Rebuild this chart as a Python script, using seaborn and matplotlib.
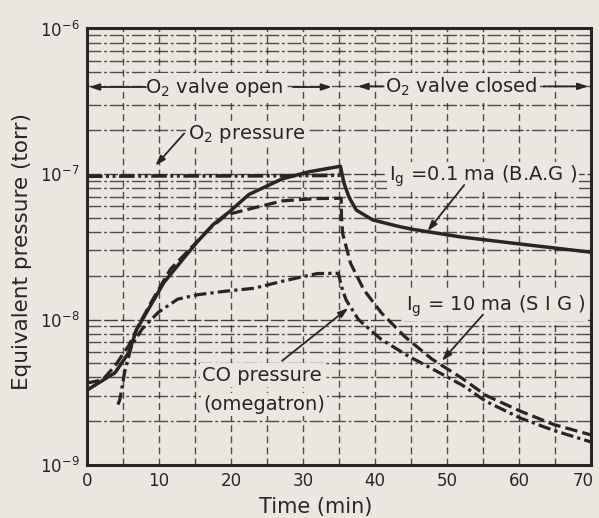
import matplotlib
matplotlib.use("Agg")
import matplotlib.pyplot as plt
import matplotlib.transforms as mtransforms
import seaborn as sns
import pandas as pd
from matplotlib.ticker import MultipleLocator, LogLocator, NullFormatter

# ---- data ----
time_bag = [0, 3.9, 5.8, 6.9, 8.5, 10.7, 13.0, 15.3, 17.5, 19.8, 22.5, 27.1, 30.8,
            35.2, 35.7, 36.4, 37.4, 39.7, 43.4, 45.2, 51.8, 60.2, 70]
p_bag = [3.27e-9, 4.31e-9, 5.92e-9, 8.53e-9, 1.17e-8, 1.80e-8, 2.48e-8, 3.41e-8,
         4.48e-8, 5.51e-8, 7.24e-8, 9.25e-8, 1.035e-7, 1.13e-7, 8.63e-8, 6.92e-8,
         5.65e-8, 4.83e-8, 4.35e-8, 4.17e-8, 3.70e-8, 3.30e-8, 2.90e-8]

time_sig = [0, 2.15, 3.9, 5.8, 7.15, 8.9, 11.6, 14.3, 17.0, 19.4, 23.0, 27.1, 31.8,
            35.3, 35.35, 35.5, 36.6, 38.45, 40.9, 44.1, 47.9, 52.15, 55.4, 60.15,
            64.8, 70]
p_sig = [3.66e-9, 3.84e-9, 4.81e-9, 6.61e-9, 9.08e-9, 1.31e-8, 2.22e-8, 3.05e-8,
         4.20e-8, 5.25e-8, 5.82e-8, 6.53e-8, 6.78e-8, 6.81e-8, 5.05e-8, 3.92e-8,
         2.44e-8, 1.60e-8, 1.11e-8, 7.66e-9, 5.35e-9, 3.93e-9, 3.01e-9, 2.35e-9,
         1.90e-9, 1.61e-9]

time_co = [4.3, 4.56, 5.3, 6.2, 7.6, 9.9, 12.6, 15.4, 19.0, 23.2, 27.3, 32.0, 34.9,
           35.5, 36.0, 37.7, 40.9, 44.7, 48.0, 52.2, 55.4, 60.2, 64.8, 70]
p_co = [2.6e-9, 2.81e-9, 4.52e-9, 6.62e-9, 8.53e-9, 1.12e-8, 1.38e-8, 1.48e-8,
        1.56e-8, 1.64e-8, 1.84e-8, 2.07e-8, 2.08e-8, 1.59e-8, 1.36e-8, 1.0e-8,
        7.28e-9, 5.58e-9, 4.57e-9, 3.52e-9, 2.74e-9, 2.10e-9, 1.73e-9, 1.44e-9]

time_o2 = [0, 10, 20, 30, 35.2]
p_o2 = [9.65e-8, 9.7e-8, 9.7e-8, 9.75e-8, 9.8e-8]

x_ticks = [0, 10, 20, 30, 40, 50, 60, 70]

ink = "#2b2422"
paper = "#e9e7e0"

sns.set_style("ticks")
plt.rcParams["font.family"] = ["DejaVu Sans"]
plt.rcParams["mathtext.default"] = "regular"

fig = plt.figure(figsize=(5.99, 5.18), dpi=100, facecolor=paper)
ax = fig.add_axes([0.1452, 0.1023, 0.8414, 0.8427])
ax.set_facecolor(paper)

df_bag = pd.DataFrame({"t": time_bag, "p": p_bag})
df_sig = pd.DataFrame({"t": time_sig, "p": p_sig})
df_co = pd.DataFrame({"t": time_co, "p": p_co})
df_o2 = pd.DataFrame({"t": time_o2, "p": p_o2})

sns.lineplot(data=df_o2, x="t", y="p", ax=ax, color=ink, linewidth=2.6,
             linestyle=(0, (4.3, 1.0, 0.8, 1.0, 0.8, 1.0)), sort=False, estimator=None, zorder=4)
sns.lineplot(data=df_bag, x="t", y="p", ax=ax, color=ink, linewidth=2.5,
             sort=False, estimator=None, zorder=5)
sns.lineplot(data=df_sig, x="t", y="p", ax=ax, color=ink, linewidth=2.3,
             linestyle=(0, (3.9, 1.6)), sort=False, estimator=None, zorder=5)
sns.lineplot(data=df_co, x="t", y="p", ax=ax, color=ink, linewidth=2.3,
             linestyle=(0, (3.9, 1.3, 1.0, 1.3)), sort=False, estimator=None, zorder=5)

ax.set_yscale("log")
ax.set_xlim(0, 70)
ax.set_ylim(1e-9, 1e-6)
ax.set_xticks(x_ticks)
ax.xaxis.set_minor_locator(MultipleLocator(5))
ax.yaxis.set_major_locator(LogLocator(base=10, numticks=10))
ax.yaxis.set_minor_locator(LogLocator(base=10, subs=range(2, 10), numticks=20))
ax.yaxis.set_minor_formatter(NullFormatter())

ax.grid(which="major", axis="y", color=ink, linewidth=1.0, linestyle=(0, (10, 2)), alpha=0.85)
ax.grid(which="minor", axis="y", color=ink, linewidth=1.0, linestyle=(0, (10, 2, 2, 2)), alpha=0.8)
ax.grid(which="both", axis="x", color=ink, linewidth=1.0, linestyle=(0, (5, 3)), alpha=0.8)

for s in ax.spines.values():
    s.set_color(ink)
    s.set_linewidth(2.2)
ax.tick_params(which="both", length=0, colors=ink, labelsize=12, pad=5)

# shift the last x tick label inward so it stays on the canvas
fig.canvas.draw()
last = ax.get_xticklabels()[-1]
last.set_transform(last.get_transform() +
                   mtransforms.ScaledTranslation(-8 / 100, 0, fig.dpi_scale_trans))

ax.set_xlabel("Time (min)", fontsize=15, color=ink)
ax.set_ylabel("Equivalent pressure (torr)", fontsize=15.5, color=ink)
ax.xaxis.label.set_verticalalignment("center")
ax.yaxis.label.set_verticalalignment("center")
ax.xaxis.set_label_coords(0.454, -0.096)
ax.yaxis.set_label_coords(-0.129, 0.488)

box = dict(facecolor=paper, edgecolor="none", pad=1.5)
arrow = dict(arrowstyle="-|>,head_length=0.6,head_width=0.2", color=ink, lw=1.3,
             shrinkA=0, shrinkB=0)
fs = 14

# valve open / closed
ax.text(17.7, 3.96e-7, "O$_2$ valve open", fontsize=fs, color=ink, ha="center",
        va="center", bbox=box, zorder=6)
ax.annotate("", xy=(0.3, 3.96e-7), xytext=(8.2, 3.96e-7), arrowprops=arrow, zorder=6)
ax.annotate("", xy=(34.0, 3.96e-7), xytext=(28.6, 3.96e-7), arrowprops=arrow, zorder=6)
ax.text(52.0, 4.0e-7, "O$_2$ valve closed", fontsize=fs, color=ink, ha="center",
        va="center", bbox=box, zorder=6)
ax.annotate("", xy=(37.6, 4.0e-7), xytext=(41.2, 4.0e-7), arrowprops=arrow, zorder=6)
ax.annotate("", xy=(69.6, 4.0e-7), xytext=(63.4, 4.0e-7), arrowprops=arrow, zorder=6)

# O2 pressure
ax.text(14.0, 1.88e-7, "O$_2$ pressure", fontsize=fs, color=ink, ha="left",
        va="center", bbox=box, zorder=6)
ax.annotate("", xy=(9.5, 1.14e-7), xytext=(13.5, 1.9e-7), arrowprops=arrow, zorder=6)

# BAG
ax.text(41.9, 9.6e-8, "I$_g$ =0.1 ma (B.A.G )", fontsize=fs, color=ink, ha="left",
        va="center", bbox=box, zorder=6)
ax.annotate("", xy=(47.3, 4.05e-8), xytext=(52.4, 8.4e-8), arrowprops=arrow, zorder=6)

# SIG
ax.text(44.3, 1.23e-8, "I$_g$ = 10 ma (S I G )", fontsize=fs, color=ink, ha="left",
        va="center", bbox=box, zorder=6)
ax.annotate("", xy=(49.3, 5.2e-9), xytext=(55.0, 1.08e-8), arrowprops=arrow, zorder=6)

# CO
ax.text(16.0, 4.15e-9, "CO pressure", fontsize=fs, color=ink, ha="left",
        va="center", bbox=box, zorder=6)
ax.text(16.1, 2.61e-9, "(omegatron)", fontsize=fs, color=ink, ha="left",
        va="center", bbox=box, zorder=6)
ax.annotate("", xy=(36.3, 1.2e-8), xytext=(27.1, 5.2e-9), arrowprops=arrow, zorder=6)

fig.savefig("out.png", dpi=100, facecolor=paper)
